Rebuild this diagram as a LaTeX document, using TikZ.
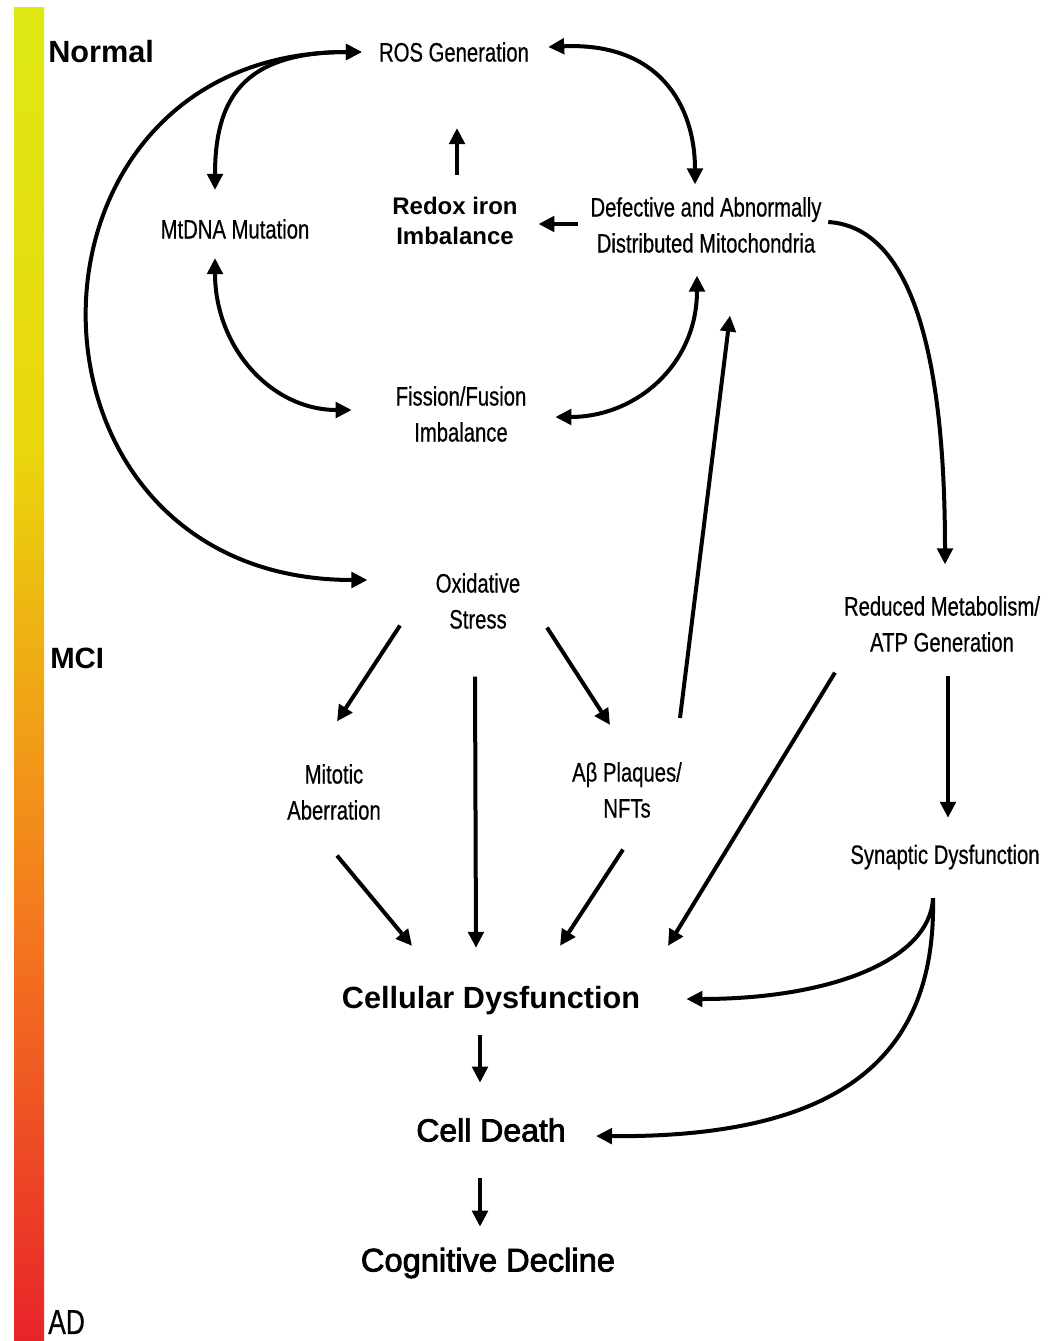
\documentclass[tikz,border=0pt]{standalone}
\usepackage{fontspec}
\setmainfont{Liberation Sans}
\newfontfamily\condfont[FakeStretch=0.76,FakeBold=0.5]{Liberation Sans}
\newfontfamily\medfont[FakeBold=2.5]{Liberation Sans}
\usetikzlibrary{arrows.meta}
\definecolor{barTop}{RGB}{222,233,20}
\definecolor{barYel}{RGB}{234,214,12}
\definecolor{barOra}{RGB}{244,125,30}
\definecolor{barRed}{RGB}{232,36,42}

\begin{document}
\begin{tikzpicture}[x=0.75pt,y=0.75pt,yscale=-1,xscale=1,
  arr/.style={line width=3pt,-{Triangle[length=12pt,width=11.5pt]}},
  darr/.style={line width=3pt,{Triangle[length=12pt,width=11.5pt]}-{Triangle[length=12pt,width=11.5pt]}},
  cond/.style={inner sep=0pt,align=center,font=\condfont\fontsize{20}{27}\selectfont},
  heavy/.style={inner sep=0pt,align=center,font=\bfseries\fontsize{23}{28}\selectfont},
  med/.style={inner sep=0pt,font=\medfont\fontsize{24}{29}\selectfont}]
\useasboundingbox (0,0) rectangle (1047,1341);
\fill[white] (0,0) rectangle (1047,1341);

%Gradient bar
\shade[top color=barTop, bottom color=barYel] (14,8) rectangle (44,451);
\shade[top color=barYel, bottom color=barOra] (14,450) rectangle (44,901);
\shade[top color=barOra, bottom color=barRed] (14,900) rectangle (44,1341);

% Text Node
\node[heavy,anchor=west] (normal) at (48,52) {Normal};
\node[heavy,anchor=west,font=\bfseries\fontsize{22}{26}\selectfont] (mci) at (50,658) {MCI};
\node[inner sep=0pt,anchor=west,font=\condfont\fontsize{26}{30}\selectfont] (ad) at (48,1322) {AD};
\node[cond] (ros) at (454,52) {ROS Generation};
\node[cond] (mtdna) at (235,229) {MtDNA Mutation};
\node[cond,font=\bfseries\fontsize{18}{22}\selectfont] (redox) at (455,221) {Redox iron\\Imbalance};
\node[cond] (defect) at (706,225) {Defective and Abnormally\\Distributed Mitochondria};
\node[cond] (fission) at (461,414) {Fission/Fusion\\Imbalance};
\node[cond] (oxid) at (478,601) {Oxidative\\Stress};
\node[cond] (reduced) at (942,624) {Reduced Metabolism/\\ATP Generation};
\node[cond] (mitotic) at (334,792) {Mitotic\\Aberration};
\node[cond] (abeta) at (627,790) {Aβ Plaques/\\NFTs};
\node[cond] (synaptic) at (945,857) {Synaptic Dysfunction};
\node[heavy] (cellular) at (491,1001) {Cellular Dysfunction};
\node[med] (death) at (491,1130) {Cell Death};
\node[med,font=\medfont\fontsize{24.5}{29}\selectfont] (cognitive) at (488,1263) {Cognitive Decline};

%Curved Lines
\draw[darr] ([shift={(-17,0)}]ros.west) .. controls +(-364,0) and +(-370,0) .. ([shift={(-68,-21)}]oxid.west);
\draw[darr] ([shift={(-17,0)}]ros.west) .. controls +(-120,0) and +(0,-90) .. ([shift={(-20,-29)}]mtdna.north);
\draw[darr] ([shift={(19,-5)}]ros.east) .. controls +(110,-5) and +(0,-80) .. ([shift={(-11,-12.5)}]defect.north);
\draw[darr] ([shift={(-20,19)}]mtdna.south) .. controls +(0,90) and +(-80,0) .. ([shift={(-43.7,-4)}]fission.west);
\draw[darr] ([shift={(-9,22.5)}]defect.south) .. controls +(0,90) and +(80,0) .. ([shift={(28.7,3)}]fission.east);
\draw[arr] ([shift={(6.5,-3)}]defect.east) .. controls +(80,5) and +(0,-220) .. ([shift={(3,-31.5)}]reduced.north);
\draw[arr] ([shift={(-12,28.5)}]synaptic.south) .. controls +(-3,62) and +(144,0) .. ([shift={(46,-2)}]cellular.east);
\draw[arr] ([shift={(-12,28.5)}]synaptic.south) .. controls +(3,155) and +(250,2) .. ([shift={(30,6)}]death.east);

%Straight Lines
\draw[arr] ([shift={(2,-22.6)}]redox.north) -- ([shift={(3,66)}]ros.south);
\draw[arr] ([shift={(-12.5,-1)}]defect.west) -- ([shift={(20.5,3)}]redox.east);
\draw[arr] ([shift={(53,-44)}]abeta.north) -- ([shift={(24,62.5)}]defect.south);
\draw[arr] ([shift={(-78,-3.5)}]oxid.south) -- ([shift={(3,-42.5)}]mitotic.north);
\draw[arr] ([shift={(-3,47.5)}]oxid.south) -- ([shift={(-15,-38.6)}]cellular.north);
\draw[arr] ([shift={(69,-1.5)}]oxid.south) -- ([shift={(-17,-37)}]abeta.north);
\draw[arr] ([shift={(3,35.5)}]mitotic.south) -- ([shift={(-79,-40.6)}]cellular.north);
\draw[arr] ([shift={(-4,31.5)}]abeta.south) -- ([shift={(69,-40.6)}]cellular.north);
\draw[arr] ([shift={(-107,20.5)}]reduced.south) -- ([shift={(177,-40.6)}]cellular.north);
\draw[arr] ([shift={(6,23.5)}]reduced.south) -- ([shift={(3,-26.5)}]synaptic.north);
\draw[arr] ([shift={(-11,19.6)}]cellular.south) -- ([shift={(-11,-35.3)}]death.north);
\draw[arr] ([shift={(-11,36.3)}]death.south) -- ([shift={(-8,-20.8)}]cognitive.north);

\end{tikzpicture}
\end{document}
